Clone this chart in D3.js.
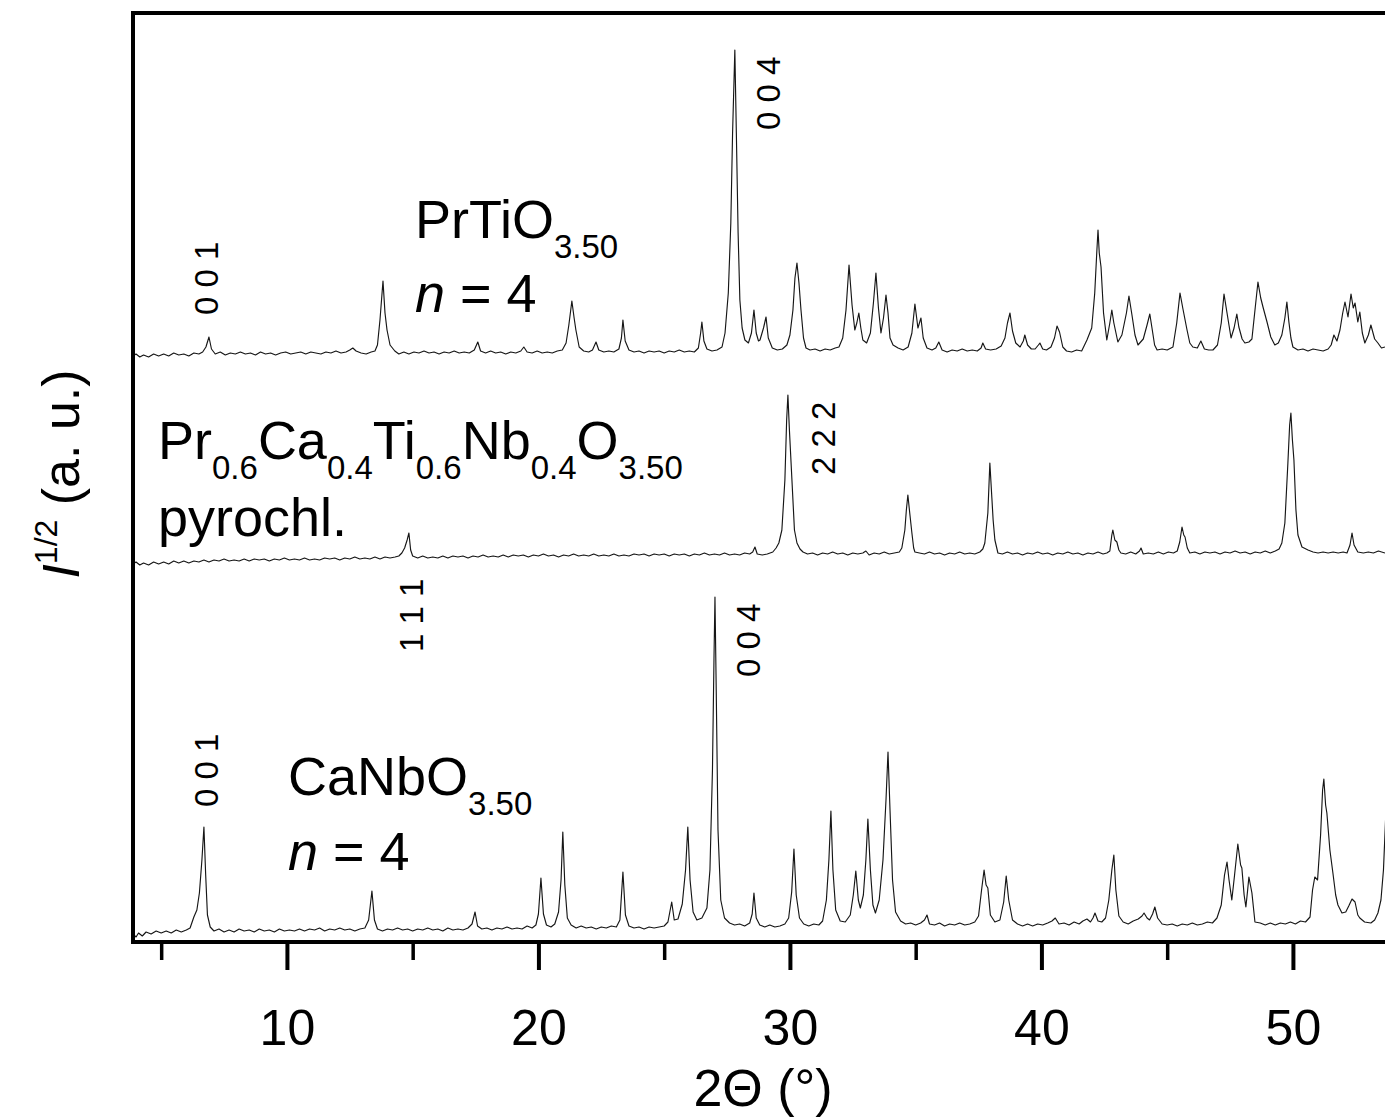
<!DOCTYPE html>
<html>
<head>
<meta charset="utf-8">
<script src="https://cdn.jsdelivr.net/npm/d3@7"></script>
<style>
  html, body { margin: 0; padding: 0; background: #fff; }
  svg { display: block; }
  text { font-family: "Liberation Sans", Arial, Helvetica, sans-serif; fill: #000; }
</style>
</head>
<body>
<svg id="chart" width="1385" height="1120"></svg>
<script>
// ---- X-ray powder patterns, plotted as sqrt(I) against 2-theta ----

// axis ticks (degrees 2-theta)
const xMajorTicks = [10, 20, 30, 40, 50];
const xMinorTicks = [5, 15, 25, 35, 45];

// vertical stacking offset of each pattern (a.u.)
const traceOffsets = [589, 382, 12];

// PrTiO3.50, n = 4 : [2theta, sqrt(I) a.u.] pairs
const prTiO = [
  3.88,-3, 4.0,-1, 4.15,-4, 4.3,-2, 4.5,-4, 4.7,-1, 4.9,-3, 5.1,-1, 5.3,-3, 5.5,0, 5.7,-2, 5.9,-1,
  6.1,-3, 6.3,0, 6.5,-1, 6.65,1, 6.78,6, 6.9,16, 7.0,4, 7.15,-1, 7.35,1, 7.55,-2, 7.75,0, 7.95,-1,
  8.15,1, 8.35,-1, 8.55,0, 8.75,-2, 8.95,1, 9.15,-1, 9.35,0, 9.55,-2, 9.75,0, 9.95,1, 10.15,-1,
  10.35,0, 10.55,1, 10.75,-1, 10.95,1, 11.15,0, 11.35,-1, 11.55,1, 11.75,0, 11.95,2, 12.15,0,
  12.35,1, 12.5,3, 12.62,5, 12.75,2, 12.95,0, 13.15,-1, 13.35,1, 13.5,2, 13.6,8, 13.7,33, 13.82,72,
  13.9,40, 13.98,23, 14.1,8, 14.29,2, 14.45,-1, 14.65,1, 14.85,-1, 15.05,1, 15.25,0, 15.45,2,
  15.65,0, 15.85,1, 16.05,-1, 16.25,1, 16.45,0, 16.65,2, 16.85,0, 17.05,1, 17.25,0, 17.45,3,
  17.59,11, 17.7,2, 17.9,0, 18.1,2, 18.3,0, 18.5,1, 18.7,-1, 18.9,1, 19.1,0, 19.3,2, 19.42,6,
  19.55,1, 19.75,0, 19.95,2, 20.15,0, 20.35,1, 20.55,0, 20.75,2, 20.95,3, 21.1,10, 21.21,28,
  21.33,52, 21.42,35, 21.49,23, 21.62,6, 21.8,2, 22.0,1, 22.15,3, 22.29,11, 22.4,3, 22.6,1,
  22.8,2, 23.0,1, 23.2,4, 23.3,15, 23.36,33, 23.45,12, 23.6,3, 23.8,1, 24.0,2, 24.2,0, 24.4,2,
  24.6,1, 24.8,2, 25.0,0, 25.2,2, 25.4,1, 25.6,3, 25.8,1, 26.0,2, 26.2,1, 26.36,5, 26.45,20,
  26.5,31, 26.58,12, 26.7,4, 26.9,2, 27.1,3, 27.3,6, 27.42,20, 27.55,60, 27.65,130, 27.72,220,
  27.81,303, 27.87,220, 27.94,120, 28.01,53, 28.1,25, 28.21,13, 28.35,10, 28.47,20, 28.57,43,
  28.66,20, 28.75,12, 28.81,13, 28.95,25, 29.05,36, 29.14,15, 29.3,5, 29.5,3, 29.7,4, 29.88,8,
  30.0,18, 30.12,43, 30.2,75, 30.28,90, 30.36,70, 30.44,43, 30.54,15, 30.64,5, 30.8,3, 31.0,4,
  31.2,2, 31.4,4, 31.6,3, 31.8,5, 31.95,6, 32.1,15, 32.23,43, 32.35,88, 32.47,48, 32.58,23,
  32.66,30, 32.74,40, 32.82,25, 32.9,13, 33.05,10, 33.2,20, 33.32,50, 33.42,80, 33.52,45,
  33.62,20, 33.72,35, 33.82,58, 33.9,40, 33.98,15, 34.1,8, 34.3,5, 34.5,3, 34.7,6, 34.85,20,
  34.97,49, 35.09,25, 35.21,35, 35.3,15, 35.45,5, 35.65,3, 35.8,5, 35.92,11, 36.05,3, 36.25,1,
  36.45,3, 36.65,2, 36.85,4, 37.05,2, 37.25,3, 37.45,2, 37.6,5, 37.67,10, 37.78,4, 37.98,3,
  38.2,4, 38.4,7, 38.55,15, 38.65,30, 38.75,40, 38.85,22, 38.98,10, 39.15,6, 39.28,12, 39.34,18,
  39.45,8, 39.6,4, 39.75,4, 39.88,8, 39.94,10, 40.05,4, 40.2,3, 40.38,6, 40.52,15, 40.62,27,
  40.72,21, 40.85,6, 41.0,2, 41.2,1, 41.4,3, 41.6,2, 41.81,13, 42.0,25, 42.12,60, 42.2,100,
  42.25,123, 42.3,100, 42.37,86, 42.47,40, 42.6,13, 42.72,30, 42.8,43, 42.88,30, 43.04,11,
  43.2,18, 43.38,40, 43.48,57, 43.6,38, 43.72,18, 43.84,8, 44.05,14, 44.2,28, 44.31,39, 44.39,26,
  44.5,8, 44.6,3, 44.8,4, 45.0,3, 45.23,6, 45.38,30, 45.51,60, 45.62,45, 45.79,23, 45.9,10,
  46.02,6, 46.2,5, 46.34,12, 46.48,4, 46.65,3, 46.82,3, 47.0,8, 47.15,30, 47.26,59, 47.38,40,
  47.54,15, 47.66,25, 47.77,39, 47.85,26, 47.98,14, 48.09,10, 48.25,11, 48.37,14, 48.5,45,
  48.61,71, 48.72,55, 48.81,46, 48.97,31, 49.12,16, 49.28,8, 49.42,10, 49.56,18, 49.68,35,
  49.76,51, 49.84,31, 49.92,15, 50.0,6, 50.2,3, 50.4,4, 50.6,2, 50.8,4, 51.0,3, 51.2,2, 51.4,4,
  51.52,8, 51.63,18, 51.75,12, 51.87,23, 51.98,40, 52.07,51, 52.19,36, 52.31,59, 52.4,45,
  52.47,50, 52.58,31, 52.66,41, 52.76,20, 52.86,10, 53.0,18, 53.1,28, 53.25,14, 53.38,10,
  53.52,5, 53.66,6
];

// Pr0.6Ca0.4Ti0.6Nb0.4O3.50, pyrochlore : [2theta, sqrt(I) a.u.] pairs
const pyrochlore = [
  3.88,-4, 4.0,-2, 4.15,-5, 4.3,-3, 4.5,-5, 4.7,-2, 4.9,-4, 5.1,-2, 5.3,-4, 5.5,-1, 5.7,-3, 5.9,-1,
  6.1,-3, 6.3,-1, 6.5,-2, 6.7,0, 6.9,-2, 7.1,0, 7.3,-1, 7.5,1, 7.7,-1, 7.9,0, 8.1,-1, 8.3,1,
  8.5,-1, 8.7,1, 8.9,0, 9.1,1, 9.3,-1, 9.5,1, 9.7,0, 9.9,2, 10.1,0, 10.3,1, 10.5,0, 10.7,2,
  10.9,0, 11.1,1, 11.3,0, 11.5,2, 11.7,1, 11.9,2, 12.1,0, 12.3,2, 12.5,1, 12.7,3, 12.9,1, 13.1,2,
  13.3,1, 13.5,3, 13.7,1, 13.9,3, 14.1,2, 14.3,3, 14.45,4, 14.57,7, 14.68,12, 14.78,20, 14.85,27,
  14.92,10, 15.0,4, 15.2,2, 15.4,4, 15.6,2, 15.8,3, 16.0,2, 16.2,4, 16.4,2, 16.6,4, 16.8,3,
  17.0,4, 17.2,2, 17.4,4, 17.6,3, 17.8,5, 18.0,3, 18.2,4, 18.4,3, 18.6,5, 18.8,3, 19.0,5, 19.2,4,
  19.4,5, 19.6,3, 19.8,5, 20.0,4, 20.2,6, 20.4,4, 20.6,5, 20.8,3, 21.0,5, 21.2,4, 21.4,6, 21.6,4,
  21.8,5, 22.0,4, 22.2,6, 22.4,4, 22.6,5, 22.8,4, 23.0,6, 23.2,4, 23.4,5, 23.6,4, 23.8,6, 24.0,5,
  24.2,6, 24.4,4, 24.6,6, 24.8,5, 25.0,6, 25.2,4, 25.4,6, 25.6,5, 25.8,6, 26.0,4, 26.2,6, 26.4,5,
  26.6,7, 26.8,5, 27.0,6, 27.2,5, 27.4,7, 27.6,5, 27.8,6, 28.0,5, 28.2,7, 28.4,6, 28.52,8,
  28.61,13, 28.7,6, 28.9,5, 29.1,6, 29.32,8, 29.45,12, 29.56,17, 29.68,30, 29.8,80, 29.87,140,
  29.92,165, 29.98,130, 30.08,80, 30.18,30, 30.28,17, 30.4,11, 30.52,8, 30.7,6, 30.9,7, 31.1,5,
  31.3,7, 31.5,6, 31.7,8, 31.9,6, 32.1,7, 32.3,5, 32.5,7, 32.7,6, 32.9,7, 33.02,9, 33.15,5,
  33.35,7, 33.55,6, 33.75,8, 33.95,6, 34.15,7, 34.35,8, 34.45,12, 34.57,30, 34.63,50, 34.69,65,
  34.76,48, 34.85,27, 34.92,12, 34.97,8, 35.15,7, 35.35,6, 35.55,8, 35.75,6, 35.95,7, 36.15,5,
  36.35,7, 36.55,6, 36.75,8, 36.95,6, 37.15,7, 37.35,6, 37.55,8, 37.67,11, 37.75,17, 37.87,47,
  37.95,97, 38.03,62, 38.08,40, 38.15,20, 38.27,7, 38.45,6, 38.65,8, 38.85,6, 39.05,7, 39.25,5,
  39.45,7, 39.65,6, 39.85,8, 40.05,6, 40.25,7, 40.45,5, 40.65,7, 40.85,6, 41.05,8, 41.25,6,
  41.45,7, 41.65,5, 41.85,7, 42.05,6, 42.25,8, 42.45,6, 42.6,7, 42.72,9, 42.8,25, 42.84,30,
  42.92,20, 43.0,18, 43.08,10, 43.16,7, 43.35,6, 43.55,8, 43.75,6, 43.9,9, 43.96,12, 44.05,6,
  44.25,7, 44.45,6, 44.65,8, 44.85,6, 45.05,8, 45.25,7, 45.4,9, 45.5,18, 45.59,33, 45.66,25,
  45.71,23, 45.8,12, 45.9,7, 46.1,8, 46.3,6, 46.5,8, 46.7,7, 46.9,8, 47.1,6, 47.3,8, 47.5,7,
  47.7,9, 47.9,7, 48.1,8, 48.3,6, 48.5,8, 48.7,7, 48.9,9, 49.1,7, 49.3,9, 49.45,11, 49.56,17,
  49.68,37, 49.8,97, 49.87,135, 49.92,147, 49.98,120, 50.04,100, 50.12,50, 50.2,25, 50.36,13,
  50.6,10, 50.8,8, 51.0,7, 51.2,8, 51.4,7, 51.6,8, 51.8,7, 52.0,8, 52.15,7, 52.27,15, 52.35,27,
  52.43,15, 52.58,8, 52.8,7, 53.0,8, 53.2,7, 53.4,9, 53.66,7
];

// CaNbO3.50, n = 4 : [2theta, sqrt(I) a.u.] pairs
const caNbO = [
  3.88,-4, 4.0,-7, 4.1,-3, 4.25,-6, 4.4,-2, 4.6,-4, 4.8,-1, 5.0,-3, 5.2,-1, 5.4,-3, 5.6,0, 5.8,-2,
  6.0,0, 6.15,2, 6.3,13, 6.42,20, 6.52,37, 6.62,70, 6.70,103, 6.77,55, 6.84,15, 6.95,3, 7.1,-1,
  7.3,1, 7.5,-2, 7.7,0, 7.9,-2, 8.1,1, 8.3,-1, 8.5,0, 8.7,-2, 8.9,1, 9.1,-1, 9.3,0, 9.5,-2, 9.7,1,
  9.9,-1, 10.1,0, 10.3,-1, 10.5,1, 10.7,-1, 10.9,1, 11.1,0, 11.3,2, 11.5,-1, 11.7,1, 11.9,0,
  12.1,2, 12.3,0, 12.5,1, 12.7,-1, 12.9,1, 13.1,2, 13.25,10, 13.38,39, 13.48,10, 13.6,1, 13.8,-1,
  14.0,1, 14.2,0, 14.4,2, 14.6,0, 14.8,1, 15.0,-1, 15.2,1, 15.4,0, 15.6,2, 15.8,0, 16.0,1,
  16.2,-1, 16.4,2, 16.6,0, 16.8,1, 17.0,0, 17.2,2, 17.36,6, 17.48,18, 17.58,4, 17.75,1, 17.95,2,
  18.15,0, 18.35,2, 18.55,1, 18.75,3, 18.95,1, 19.15,2, 19.35,1, 19.55,4, 19.75,2, 19.9,5,
  20.0,16, 20.1,52, 20.2,16, 20.32,5, 20.5,3, 20.65,6, 20.8,18, 20.9,50, 20.97,98, 21.05,45,
  21.15,12, 21.3,5, 21.5,2, 21.7,4, 21.9,2, 22.1,3, 22.3,1, 22.5,3, 22.7,2, 22.9,4, 23.1,3,
  23.24,10, 23.36,58, 23.46,15, 23.6,4, 23.8,2, 24.0,3, 24.2,1, 24.4,3, 24.6,2, 24.8,3, 25.0,4,
  25.15,8, 25.3,28, 25.4,10, 25.55,11, 25.72,26, 25.85,60, 25.94,103, 26.03,50, 26.15,18,
  26.3,10, 26.5,12, 26.7,22, 26.82,60, 26.92,160, 26.98,270, 27.02,333, 27.07,240, 27.14,100,
  27.25,30, 27.4,12, 27.6,7, 27.8,5, 28.0,6, 28.2,4, 28.4,7, 28.5,16, 28.57,37, 28.66,12, 28.8,5,
  29.0,3, 29.2,5, 29.4,3, 29.6,4, 29.8,6, 29.95,12, 30.07,38, 30.16,81, 30.25,35, 30.38,12,
  30.55,6, 30.75,4, 30.95,6, 31.15,5, 31.3,9, 31.45,30, 31.55,70, 31.63,119, 31.71,60, 31.82,20,
  32.0,9, 32.2,8, 32.4,15, 32.52,35, 32.62,59, 32.72,30, 32.8,22, 32.92,35, 33.02,70, 33.1,111,
  33.2,60, 33.3,25, 33.4,17, 33.55,30, 33.7,70, 33.82,130, 33.9,178, 33.98,120, 34.08,50,
  34.2,18, 34.4,9, 34.6,6, 34.8,7, 35.0,5, 35.2,7, 35.35,10, 35.45,15, 35.55,6, 35.75,5, 35.95,7,
  36.15,4, 36.35,6, 36.55,5, 36.75,7, 36.95,5, 37.15,6, 37.35,8, 37.5,14, 37.62,40, 37.72,60,
  37.8,45, 37.87,42, 37.97,15, 38.15,8, 38.35,10, 38.5,28, 38.6,54, 38.7,30, 38.85,10, 39.05,6,
  39.25,4, 39.45,6, 39.65,4, 39.85,6, 40.05,5, 40.25,7, 40.42,9, 40.55,12, 40.7,6, 40.9,7,
  41.1,5, 41.3,8, 41.5,6, 41.65,9, 41.81,11, 41.95,8, 42.05,12, 42.13,17, 42.25,9, 42.4,8,
  42.55,12, 42.68,30, 42.8,60, 42.88,75, 42.96,40, 43.08,14, 43.25,8, 43.45,6, 43.65,9,
  43.85,11, 44.0,14, 44.08,17, 44.2,12, 44.3,10, 44.42,16, 44.51,23, 44.62,12, 44.8,6, 45.0,5,
  45.2,6, 45.4,4, 45.6,6, 45.8,5, 46.0,7, 46.2,5, 46.4,6, 46.6,8, 46.8,7, 46.98,12, 47.15,25,
  47.28,55, 47.38,68, 47.46,50, 47.57,30, 47.68,55, 47.81,86, 47.92,65, 47.97,62, 48.06,35,
  48.13,23, 48.2,40, 48.25,53, 48.37,37, 48.49,8, 48.7,7, 48.9,5, 49.1,7, 49.3,5, 49.5,7,
  49.7,6, 49.9,8, 50.1,6, 50.3,9, 50.5,8, 50.68,13, 50.78,40, 50.87,53, 50.98,50, 51.1,95,
  51.18,140, 51.23,151, 51.3,125, 51.35,117, 51.47,80, 51.59,57, 51.7,35, 51.79,25, 51.95,17,
  52.1,18, 52.22,24, 52.35,31, 52.47,28, 52.58,15, 52.66,12, 52.85,8, 53.1,7, 53.25,10,
  53.38,17, 53.5,30, 53.6,60, 53.7,120, 53.8,190
];

const patterns = [prTiO, pyrochlore, caNbO];

// Miller-index annotations: pattern index, hkl, peak position (2theta)
const hklPattern = [0, 0, 1, 1, 2, 2];
const hklText    = ["0 0 1", "0 0 4", "2 2 2", "1 1 1", "0 0 4", "0 0 1"];
const hklAngle   = [6.9, 27.81, 29.92, 14.85, 27.02, 6.70];

// sample names: each line is a list of [text, style] runs (style: "", "sub", "it")
const sampleNames = [
  [[["PrTiO", ""], ["3.50", "sub"]], [["n", "it"], [" = 4", ""]]],
  [[["Pr", ""], ["0.6", "sub"], ["Ca", ""], ["0.4", "sub"], ["Ti", ""], ["0.6", "sub"],
    ["Nb", ""], ["0.4", "sub"], ["O", ""], ["3.50", "sub"]], [["pyrochl.", ""]]],
  [[["CaNbO", ""], ["3.50", "sub"]], [["n", "it"], [" = 4", ""]]]
];

// ---------------- layout ----------------
const W = 1385, H = 1120;
const plotLeft = 133, plotTop = 13, plotBottom = 942;
const pxPerDegree = 25.15;
const xDomain = [3.88, 60];

const svg = d3.select("#chart");

const x = d3.scaleLinear()
  .domain(xDomain)
  .range([plotLeft, plotLeft + (xDomain[1] - xDomain[0]) * pxPerDegree]);
const y = d3.scaleLinear().domain([0, 930]).range([plotBottom, 12]);

const toPairs = arr => d3.range(0, arr.length, 2).map(i => [arr[i], arr[i + 1]]);

svg.append("defs").append("clipPath").attr("id", "plotClip")
  .append("rect").attr("x", plotLeft).attr("y", plotTop)
  .attr("width", W - plotLeft).attr("height", plotBottom - plotTop);

// patterns
const traces = svg.append("g").attr("clip-path", "url(#plotClip)");
patterns.forEach((arr, i) => {
  const off = traceOffsets[i];
  const line = d3.line()
    .x(d => x(d[0]))
    .y(d => y(off + d[1]))
    .curve(d3.curveLinear);
  traces.append("path")
    .datum(toPairs(arr))
    .attr("d", line)
    .attr("fill", "none")
    .attr("stroke", "#161616")
    .attr("stroke-width", 1.15)
    .attr("stroke-linejoin", "round");
});

// minor ticks
const minorAxis = d3.axisBottom(x).tickValues(xMinorTicks).tickSize(18).tickFormat("");
const gMinor = svg.append("g").attr("transform", `translate(0,${plotBottom})`).call(minorAxis);
gMinor.select(".domain").remove();
gMinor.selectAll(".tick line").attr("stroke", "#000").attr("stroke-width", 3.5);

// major ticks with labels
const majorAxis = d3.axisBottom(x).tickValues(xMajorTicks).tickSize(28).tickPadding(39)
  .tickFormat(d3.format("d"));
const gMajor = svg.append("g").attr("transform", `translate(0,${plotBottom})`).call(majorAxis);
gMajor.select(".domain").remove();
gMajor.selectAll(".tick line").attr("stroke", "#000").attr("stroke-width", 4);
gMajor.selectAll(".tick text")
  .attr("font-size", 50)
  .attr("font-family", '"Liberation Sans", Arial, sans-serif')
  .attr("fill", "#000");

// frame: left, top and bottom edges
const frame = svg.append("g").attr("stroke", "#000").attr("stroke-width", 4).attr("fill", "none");
frame.append("line").attr("x1", plotLeft).attr("x2", plotLeft).attr("y1", plotTop - 2).attr("y2", plotBottom + 2);
frame.append("line").attr("x1", plotLeft - 2).attr("x2", x(xDomain[1])).attr("y1", plotTop).attr("y2", plotTop);
frame.append("line").attr("x1", plotLeft - 2).attr("x2", x(xDomain[1])).attr("y1", plotBottom).attr("y2", plotBottom);

// Miller indices (rotated, reading upwards)
const hklPlacement = [
  { dx: 9,  dy: -38 },
  { dx: 45, dy: -223 },
  { dx: 47, dy: -85 },
  { dx: 14, dy: 92 },
  { dx: 45, dy: -253 },
  { dx: 14, dy: -123 }
];
hklText.forEach((t, i) => {
  const px = x(hklAngle[i]) + hklPlacement[i].dx;
  const py = y(traceOffsets[hklPattern[i]]) + hklPlacement[i].dy;
  svg.append("text")
    .attr("transform", `translate(${px},${py}) rotate(-90)`)
    .attr("font-size", 33)
    .text(t);
});

// sample names
const namePlacement = [
  { x: 415, y: [238, 312] },
  { x: 158, y: [459, 536] },
  { x: 288, y: [795, 870] }
];
sampleNames.forEach((lines, i) => {
  lines.forEach((runs, li) => {
    const t = svg.append("text")
      .attr("x", namePlacement[i].x)
      .attr("y", namePlacement[i].y[li])
      .attr("font-size", 54);
    let shifted = false;
    runs.forEach(([str, style]) => {
      const ts = t.append("tspan").text(str);
      if (style === "sub") {
        ts.attr("font-size", 33).attr("dy", shifted ? 0 : 20);
        shifted = true;
      } else {
        if (shifted) { ts.attr("dy", -20); shifted = false; }
        if (style === "it") ts.attr("font-style", "italic");
      }
    });
  });
});

// axis titles
svg.append("text")
  .attr("x", 763).attr("y", 1106)
  .attr("text-anchor", "middle")
  .attr("font-size", 52)
  .text("2\u0398 (\u00B0)");

const yTitle = svg.append("text")
  .attr("transform", "translate(79,474) rotate(-90)")
  .attr("text-anchor", "middle")
  .attr("font-size", 52);
yTitle.append("tspan").attr("font-style", "italic").text("I");
yTitle.append("tspan").attr("font-size", 32).attr("dy", -22).text("1/2");
yTitle.append("tspan").attr("dy", 22).text(" (a. u.)");
</script>
</body>
</html>
